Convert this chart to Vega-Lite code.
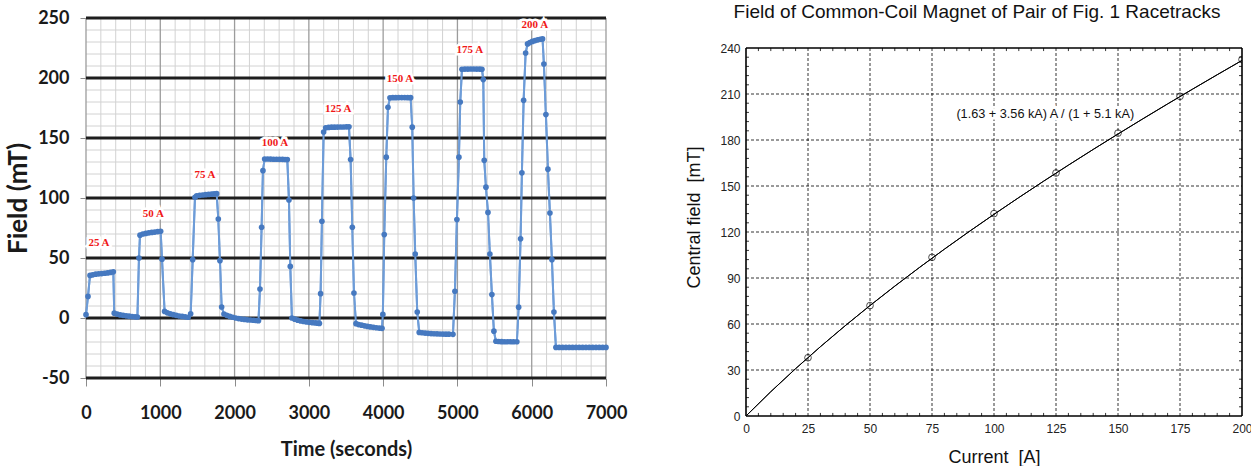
{
  "$schema": "https://vega.github.io/schema/vega-lite/v6.json",
  "background": "white",
  "padding": {"left": 5, "top": 3, "right": 0, "bottom": 0},
  "spacing": 58,
  "config": {"view": {"stroke": null}},
  "datasets": {
    "field": [
      {"t":0,"b":2.8},{"t":27,"b":18},
      {"t":54,"b":35.5},{"t":90,"b":36},{"t":130,"b":36.5},{"t":170,"b":36.8},{"t":210,"b":37},{"t":250,"b":37.3},{"t":290,"b":37.6},{"t":330,"b":38},{"t":368,"b":38.5},
      {"t":380,"b":4},{"t":420,"b":3.2},{"t":460,"b":2.6},{"t":500,"b":2.2},{"t":540,"b":1.8},{"t":580,"b":1.5},{"t":620,"b":1.2},{"t":660,"b":1},{"t":692,"b":0.8},
      {"t":713,"b":50},
      {"t":727,"b":69},{"t":765,"b":70},{"t":805,"b":70.5},{"t":845,"b":71},{"t":885,"b":71.3},{"t":925,"b":71.6},{"t":965,"b":72},{"t":1005,"b":72.3},
      {"t":1023,"b":49},
      {"t":1058,"b":5.5},{"t":1095,"b":4.3},{"t":1135,"b":3.5},{"t":1175,"b":2.8},{"t":1215,"b":2.2},{"t":1255,"b":1.7},{"t":1295,"b":1.3},{"t":1335,"b":1},{"t":1375,"b":0.6},
      {"t":1409,"b":3.5},{"t":1436,"b":48.6},{"t":1467,"b":100.6},
      {"t":1490,"b":101.8},{"t":1530,"b":102.2},{"t":1570,"b":102.5},{"t":1610,"b":102.8},{"t":1650,"b":103},{"t":1690,"b":103.2},{"t":1725,"b":103.4},{"t":1759,"b":103.6},
      {"t":1781,"b":82.5},{"t":1803,"b":47.8},{"t":1826,"b":9.2},
      {"t":1857,"b":3.3},{"t":1895,"b":2.2},{"t":1935,"b":1.3},{"t":1975,"b":0.6},{"t":2015,"b":0},{"t":2055,"b":-0.5},{"t":2095,"b":-0.9},{"t":2135,"b":-1.2},{"t":2175,"b":-1.5},{"t":2215,"b":-1.7},{"t":2255,"b":-1.9},{"t":2290,"b":-2.1},{"t":2322,"b":-2.2},
      {"t":2342,"b":24.2},{"t":2364,"b":75.6},{"t":2382,"b":122.8},
      {"t":2405,"b":132.5},{"t":2445,"b":132.5},{"t":2485,"b":132.4},{"t":2525,"b":132.3},{"t":2565,"b":132.3},{"t":2605,"b":132.2},{"t":2645,"b":132.2},{"t":2680,"b":132.1},{"t":2710,"b":132},
      {"t":2732,"b":98.3},{"t":2750,"b":43},
      {"t":2772,"b":0},{"t":2810,"b":-1},{"t":2850,"b":-1.8},{"t":2890,"b":-2.4},{"t":2930,"b":-2.9},{"t":2970,"b":-3.3},{"t":3010,"b":-3.6},{"t":3050,"b":-3.9},{"t":3090,"b":-4.1},{"t":3120,"b":-4.3},{"t":3142,"b":-4.5},
      {"t":3158,"b":20.3},{"t":3176,"b":80.6},{"t":3199,"b":155},
      {"t":3226,"b":158.5},{"t":3265,"b":158.8},{"t":3305,"b":159},{"t":3345,"b":159},{"t":3385,"b":159.1},{"t":3425,"b":159.2},{"t":3465,"b":159.2},{"t":3505,"b":159.3},{"t":3540,"b":159.3},
      {"t":3562,"b":132},{"t":3585,"b":75.6},{"t":3607,"b":20.8},
      {"t":3634,"b":-4.7},{"t":3670,"b":-5.5},{"t":3710,"b":-6},{"t":3750,"b":-6.5},{"t":3790,"b":-7},{"t":3830,"b":-7.4},{"t":3870,"b":-7.8},{"t":3910,"b":-8.1},{"t":3950,"b":-8.4},{"t":3985,"b":-8.6},
      {"t":3996,"b":3},{"t":4015,"b":69.5},{"t":4042,"b":134},{"t":4065,"b":175.6},
      {"t":4092,"b":183.5},{"t":4130,"b":183.6},{"t":4170,"b":183.6},{"t":4210,"b":183.7},{"t":4250,"b":183.7},{"t":4290,"b":183.7},{"t":4330,"b":183.6},{"t":4370,"b":183.6},
      {"t":4392,"b":159},{"t":4410,"b":100},{"t":4432,"b":53.3},{"t":4459,"b":5},
      {"t":4486,"b":-12},{"t":4525,"b":-12.3},{"t":4565,"b":-12.6},{"t":4605,"b":-12.8},{"t":4645,"b":-13},{"t":4685,"b":-13.1},{"t":4725,"b":-13.2},{"t":4765,"b":-13.3},{"t":4805,"b":-13.4},{"t":4845,"b":-13.5},{"t":4885,"b":-13.5},{"t":4940,"b":-13.6},
      {"t":4966,"b":22.3},{"t":4993,"b":82},{"t":5020,"b":134},{"t":5038,"b":180},
      {"t":5061,"b":207.3},{"t":5100,"b":207.4},{"t":5140,"b":207.4},{"t":5180,"b":207.5},{"t":5220,"b":207.5},{"t":5260,"b":207.4},{"t":5300,"b":207.4},{"t":5330,"b":207.3},
      {"t":5348,"b":198.7},{"t":5361,"b":131.4},{"t":5384,"b":109},{"t":5411,"b":88},{"t":5437,"b":53.3},{"t":5464,"b":19.5},{"t":5491,"b":-11},
      {"t":5518,"b":-19.4},{"t":5555,"b":-19.6},{"t":5595,"b":-19.7},{"t":5635,"b":-19.8},{"t":5675,"b":-19.8},{"t":5715,"b":-19.8},{"t":5755,"b":-19.8},{"t":5800,"b":-19.8},
      {"t":5824,"b":9},{"t":5850,"b":66},{"t":5868,"b":121},{"t":5891,"b":181.4},{"t":5918,"b":220.8},
      {"t":5944,"b":228.4},{"t":5975,"b":229.5},{"t":6010,"b":230.5},{"t":6045,"b":231.2},{"t":6080,"b":231.8},{"t":6115,"b":232.3},{"t":6146,"b":232.6},
      {"t":6164,"b":211.7},{"t":6191,"b":169.5},{"t":6218,"b":124},{"t":6245,"b":87.5},{"t":6272,"b":48.6},{"t":6299,"b":5},
      {"t":6326,"b":-24.5},{"t":6370,"b":-24.5},{"t":6415,"b":-24.5},{"t":6460,"b":-24.5},{"t":6505,"b":-24.5},{"t":6550,"b":-24.5},{"t":6595,"b":-24.5},{"t":6640,"b":-24.5},{"t":6685,"b":-24.5},{"t":6730,"b":-24.5},{"t":6775,"b":-24.5},{"t":6820,"b":-24.5},{"t":6865,"b":-24.5},{"t":6910,"b":-24.5},{"t":6955,"b":-24.5},{"t":7000,"b":-24.5}
    ],
    "currentLabels": [
      {"t":175,"b":62.5,"label":"25 A"},
      {"t":906,"b":87,"label":"50 A"},
      {"t":1601,"b":118.9,"label":"75 A"},
      {"t":2544,"b":145.8,"label":"100 A"},
      {"t":3396,"b":174.5,"label":"125 A"},
      {"t":4226,"b":199.5,"label":"150 A"},
      {"t":5168,"b":223.6,"label":"175 A"},
      {"t":6043,"b":243.9,"label":"200 A"}
    ],
    "hMinor": [
      {"b":-40},{"b":-30},{"b":-20},{"b":-10},{"b":10},{"b":20},{"b":30},{"b":40},{"b":60},{"b":70},{"b":80},{"b":90},
      {"b":110},{"b":120},{"b":130},{"b":140},{"b":160},{"b":170},{"b":180},{"b":190},{"b":210},{"b":220},{"b":230},{"b":240}
    ],
    "hMajor": [{"b":-50},{"b":0},{"b":50},{"b":100},{"b":150},{"b":200},{"b":250}],
    "vMinor": [
      {"t":200},{"t":400},{"t":600},{"t":800},{"t":1200},{"t":1400},{"t":1600},{"t":1800},{"t":2200},{"t":2400},{"t":2600},{"t":2800},
      {"t":3200},{"t":3400},{"t":3600},{"t":3800},{"t":4200},{"t":4400},{"t":4600},{"t":4800},{"t":5200},{"t":5400},{"t":5600},{"t":5800},
      {"t":6200},{"t":6400},{"t":6600},{"t":6800}
    ],
    "vMajor": [{"t":0},{"t":1000},{"t":2000},{"t":3000},{"t":4000},{"t":5000},{"t":6000},{"t":7000}],
    "excitation": [
      {"a":25,"f":38},{"a":50,"f":72},{"a":75,"f":103.5},{"a":100,"f":132},
      {"a":125,"f":158.5},{"a":150,"f":184.5},{"a":175,"f":208.5},{"a":200,"f":232.5}
    ],
    "fit": [
      {"a":0,"f":0},{"a":10,"f":15.85},{"a":20,"f":30.87},{"a":30,"f":45.19},{"a":40,"f":58.88},{"a":50,"f":72.03},
      {"a":60,"f":84.7},{"a":70,"f":96.94},{"a":80,"f":108.8},{"a":90,"f":120.31},{"a":100,"f":131.52},
      {"a":110,"f":142.46},{"a":120,"f":153.14},{"a":130,"f":163.6},{"a":140,"f":173.85},{"a":150,"f":183.91},
      {"a":160,"f":193.8},{"a":170,"f":203.53},{"a":180,"f":213.11},{"a":190,"f":222.56},{"a":200,"f":231.9}
    ],
    "fitNote": [{"a":156.5,"f":196.8,"note":"(1.63 + 3.56 kA) A / (1 + 5.1 kA)"}],
    "aGrid": [{"a":25},{"a":50},{"a":75},{"a":100},{"a":125},{"a":150},{"a":175}],
    "fGrid": [{"f":30},{"f":60},{"f":90},{"f":120},{"f":150},{"f":180},{"f":210}],
    "aFrame": [{"a":0},{"a":200}],
    "fFrame": [{"f":0},{"f":240}],
    "aMinor": [
      {"a":5},{"a":10},{"a":15},{"a":20},{"a":30},{"a":35},{"a":40},{"a":45},{"a":55},{"a":60},{"a":65},{"a":70},
      {"a":80},{"a":85},{"a":90},{"a":95},{"a":105},{"a":110},{"a":115},{"a":120},{"a":130},{"a":135},{"a":140},{"a":145},
      {"a":155},{"a":160},{"a":165},{"a":170},{"a":180},{"a":185},{"a":190},{"a":195}
    ],
    "fMinor": [
      {"f":6},{"f":12},{"f":18},{"f":24},{"f":36},{"f":42},{"f":48},{"f":54},{"f":66},{"f":72},{"f":78},{"f":84},
      {"f":96},{"f":102},{"f":108},{"f":114},{"f":126},{"f":132},{"f":138},{"f":144},{"f":156},{"f":162},{"f":168},{"f":174},
      {"f":186},{"f":192},{"f":198},{"f":204},{"f":216},{"f":222},{"f":228},{"f":234}
    ]
  },
  "hconcat": [
    {
      "width": 520,
      "height": 360,
      "layer": [
        {
          "data": {"name": "field"},
          "mark": {"type": "line", "color": "#6d9cd8", "strokeWidth": 2},
          "encoding": {
            "x": {
              "field": "t", "type": "quantitative",
              "scale": {"domain": [0, 7000], "nice": false},
              "axis": {
                "values": [0, 1000, 2000, 3000, 4000, 5000, 6000, 7000],
                "format": "d",
                "grid": false, "domain": false,
                "tickSize": 8, "tickColor": "#8c8c8c",
                "labelFont": "Lato", "labelFontWeight": "bold", "labelFontSize": 18, "labelColor": "#1a1a1a",
                "labelPadding": 18, "labelFlush": false,
                "title": "Time (seconds)", "titleFont": "Lato", "titleFontWeight": "bold", "titleFontSize": 20,
                "titleColor": "#1a1a1a", "titlePadding": 17
              }
            },
            "y": {
              "field": "b", "type": "quantitative",
              "scale": {"domain": [-50, 250], "nice": false},
              "axis": {
                "values": [-50, 0, 50, 100, 150, 200, 250],
                "labelExpr": "'' + datum.value",
                "grid": false, "domain": false,
                "tickSize": 6, "tickColor": "#8c8c8c",
                "labelFont": "Lato", "labelFontWeight": "bold", "labelFontSize": 18, "labelColor": "#1a1a1a",
                "labelPadding": 11,
                "title": "Field (mT)", "titleFont": "Lato", "titleFontWeight": "bold", "titleFontSize": 26,
                "titleColor": "#1a1a1a", "titlePadding": 6
              }
            }
          }
        },
        {
          "data": {"name": "vMinor"},
          "mark": {"type": "rule", "color": "#d2d2d2", "strokeWidth": 1},
          "encoding": {"x": {"field": "t", "type": "quantitative"}}
        },
        {
          "data": {"name": "hMinor"},
          "mark": {"type": "rule", "color": "#d2d2d2", "strokeWidth": 1},
          "encoding": {"y": {"field": "b", "type": "quantitative"}}
        },
        {
          "data": {"name": "vMajor"},
          "mark": {"type": "rule", "color": "#9c9c9c", "strokeWidth": 1.3},
          "encoding": {"x": {"field": "t", "type": "quantitative"}}
        },
        {
          "data": {"name": "hMajor"},
          "mark": {"type": "rule", "color": "#1e1e1e", "strokeWidth": 3},
          "encoding": {"y": {"field": "b", "type": "quantitative"}}
        },
        {
          "data": {"name": "field"},
          "mark": {"type": "line", "color": "#6d9cd8", "strokeWidth": 2},
          "encoding": {
            "x": {"field": "t", "type": "quantitative"},
            "y": {"field": "b", "type": "quantitative"}
          }
        },
        {
          "data": {"name": "field"},
          "mark": {"type": "point", "filled": true, "color": "#4679c0", "size": 32, "opacity": 1},
          "encoding": {
            "x": {"field": "t", "type": "quantitative"},
            "y": {"field": "b", "type": "quantitative"}
          }
        },
        {
          "data": {"name": "currentLabels"},
          "mark": {"type": "text", "font": "Liberation Serif", "fontWeight": "bold", "fontSize": 11, "color": "#ffffff", "stroke": "#ffffff", "strokeWidth": 5, "align": "center", "baseline": "middle"},
          "encoding": {
            "x": {"field": "t", "type": "quantitative"},
            "y": {"field": "b", "type": "quantitative"},
            "text": {"field": "label"}
          }
        },
        {
          "data": {"name": "currentLabels"},
          "mark": {"type": "text", "font": "Liberation Serif", "fontWeight": "bold", "fontSize": 11, "color": "#f01818", "align": "center", "baseline": "middle"},
          "encoding": {
            "x": {"field": "t", "type": "quantitative"},
            "y": {"field": "b", "type": "quantitative"},
            "text": {"field": "label"}
          }
        }
      ]
    },
    {
      "width": 496,
      "height": 398,
      "title": {
        "text": "Field of Common-Coil Magnet of Pair of Fig. 1 Racetracks",
        "font": "Liberation Sans", "fontSize": 19, "fontWeight": "normal", "color": "#111111",
        "baseline": "bottom", "offset": -23, "dx": -17
      },
      "layer": [
        {
          "data": {"name": "fit"},
          "mark": {"type": "line", "color": "#000000", "strokeWidth": 1},
          "encoding": {
            "x": {
              "field": "a", "type": "quantitative",
              "scale": {"domain": [0, 200], "nice": false},
              "axis": {
                "values": [0, 25, 50, 75, 100, 125, 150, 175, 200],
                "grid": false, "ticks": false, "tickSize": 0, "domain": false,
                "labelFont": "Liberation Sans", "labelFontSize": 12, "labelColor": "#222222",
                "labelPadding": 7, "labelFlush": false,
                "title": "Current\u00a0 [A]", "titleFont": "Liberation Sans", "titleFontWeight": "normal", "titleFontSize": 18,
                "titleColor": "#111111", "titlePadding": 14
              }
            },
            "y": {
              "field": "f", "type": "quantitative",
              "scale": {"domain": [0, 259.57], "nice": false},
              "axis": {
                "values": [0, 30, 60, 90, 120, 150, 180, 210, 240],
                "grid": false, "ticks": false, "tickSize": 0, "domain": false,
                "labelFont": "Liberation Sans", "labelFontSize": 12, "labelColor": "#222222",
                "labelPadding": 6,
                "title": "Central field\u00a0 [mT]", "titleFont": "Liberation Sans", "titleFontWeight": "normal", "titleFontSize": 18,
                "titleColor": "#111111", "titlePadding": 16
              }
            }
          }
        },
        {
          "data": {"name": "aGrid"},
          "mark": {"type": "rule", "color": "#000000", "strokeWidth": 0.8, "strokeDash": [3, 2]},
          "encoding": {
            "x": {"field": "a", "type": "quantitative"},
            "y": {"datum": 0},
            "y2": {"datum": 240}
          }
        },
        {
          "data": {"name": "fGrid"},
          "mark": {"type": "rule", "color": "#000000", "strokeWidth": 0.8, "strokeDash": [3, 2]},
          "encoding": {
            "y": {"field": "f", "type": "quantitative"},
            "x": {"datum": 0},
            "x2": {"datum": 200}
          }
        },
        {
          "data": {"name": "aMinor"},
          "mark": {"type": "rule", "color": "#000000", "strokeWidth": 0.8},
          "encoding": {
            "x": {"field": "a", "type": "quantitative"},
            "y": {"datum": 0},
            "y2": {"datum": 2}
          }
        },
        {
          "data": {"name": "aMinor"},
          "mark": {"type": "rule", "color": "#000000", "strokeWidth": 0.8},
          "encoding": {
            "x": {"field": "a", "type": "quantitative"},
            "y": {"datum": 240},
            "y2": {"datum": 238}
          }
        },
        {
          "data": {"name": "fMinor"},
          "mark": {"type": "rule", "color": "#000000", "strokeWidth": 0.8},
          "encoding": {
            "y": {"field": "f", "type": "quantitative"},
            "x": {"datum": 0},
            "x2": {"datum": 1.2}
          }
        },
        {
          "data": {"name": "fMinor"},
          "mark": {"type": "rule", "color": "#000000", "strokeWidth": 0.8},
          "encoding": {
            "y": {"field": "f", "type": "quantitative"},
            "x": {"datum": 200},
            "x2": {"datum": 198.8}
          }
        },
        {
          "data": {"name": "aFrame"},
          "mark": {"type": "rule", "color": "#000000", "strokeWidth": 1.6},
          "encoding": {
            "x": {"field": "a", "type": "quantitative"},
            "y": {"datum": 0},
            "y2": {"datum": 240}
          }
        },
        {
          "data": {"name": "fFrame"},
          "mark": {"type": "rule", "color": "#000000", "strokeWidth": 1.6},
          "encoding": {
            "y": {"field": "f", "type": "quantitative"},
            "x": {"datum": 0},
            "x2": {"datum": 200}
          }
        },
        {
          "data": {"name": "fit"},
          "mark": {"type": "line", "color": "#000000", "strokeWidth": 1},
          "encoding": {
            "x": {"field": "a", "type": "quantitative"},
            "y": {"field": "f", "type": "quantitative"}
          }
        },
        {
          "data": {"name": "excitation"},
          "mark": {"type": "point", "filled": false, "color": "#000000", "strokeWidth": 1, "size": 45, "clip": true},
          "encoding": {
            "x": {"field": "a", "type": "quantitative"},
            "y": {"field": "f", "type": "quantitative"}
          }
        },
        {
          "data": {"name": "fitNote"},
          "mark": {"type": "text", "font": "Liberation Sans", "fontSize": 12.7, "align": "right", "baseline": "middle", "color": "#ffffff", "stroke": "#ffffff", "strokeWidth": 5},
          "encoding": {
            "x": {"field": "a", "type": "quantitative"},
            "y": {"field": "f", "type": "quantitative"},
            "text": {"field": "note"}
          }
        },
        {
          "data": {"name": "fitNote"},
          "mark": {"type": "text", "font": "Liberation Sans", "fontSize": 12.7, "align": "right", "baseline": "middle", "color": "#111111"},
          "encoding": {
            "x": {"field": "a", "type": "quantitative"},
            "y": {"field": "f", "type": "quantitative"},
            "text": {"field": "note"}
          }
        }
      ]
    }
  ]
}
